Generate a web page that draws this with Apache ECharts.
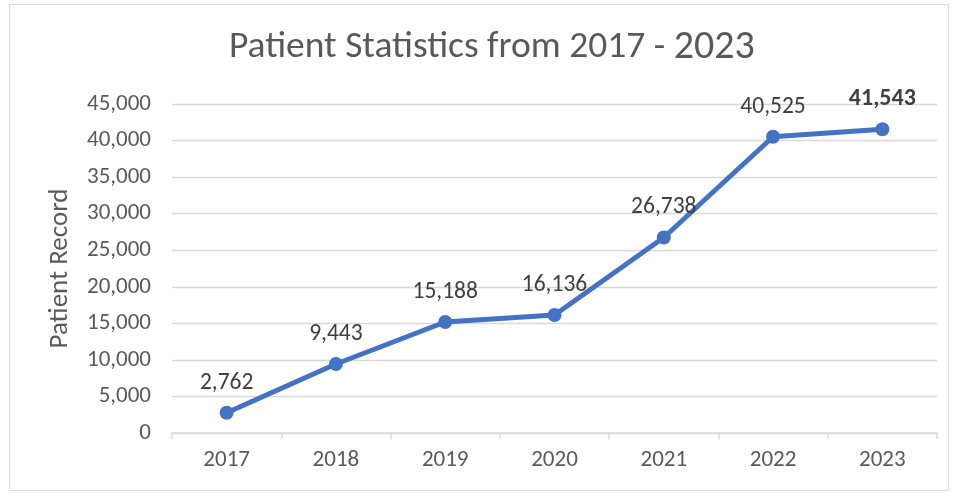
<!DOCTYPE html>
<html><head><meta charset="utf-8">
<script src="https://cdn.jsdelivr.net/npm/echarts@6/dist/echarts.min.js"></script>
<style>html,body{margin:0;padding:0;background:#fff;}#c{width:956px;height:493px;}
#frame{position:absolute;left:9px;top:4px;width:940px;height:487px;border:1px solid #d9d9d9;box-sizing:border-box;pointer-events:none;}</style>
</head><body><div id="c"></div><div id="frame"></div>
<script>
const categories = ['2017','2018','2019','2020','2021','2022','2023'];
const values = [2762, 9443, 15188, 16136, 26738, 40525, 41543];
const yTicks = [0,5000,10000,15000,20000,25000,30000,35000,40000,45000];
const titleMain = 'Patient Statistics from 2017 - ';
const titleYear = '2023';
const yName = 'Patient Record';

const fmt = v => v.toLocaleString('en-US');
const chart = echarts.init(document.getElementById('c'), null, {renderer:'canvas'});
const font = 'Carlito, Lato, sans-serif';
chart.setOption({
  animation:false,
  backgroundColor:'#fff',
  title:{
    text:'{a|'+titleMain+'}{b|'+titleYear+'}',
    left:224, top:23,
    textStyle:{fontWeight:'normal',rich:{
      a:{fontSize:37.5,color:'#595959',fontFamily:font,fontWeight:'normal'},
      b:{fontSize:40,color:'#595959',fontFamily:font,fontWeight:'normal'}
    }}
  },
  grid:{left:172,right:19,top:104,bottom:60,containLabel:false},
  xAxis:{
    type:'category', data:categories, boundaryGap:true,
    axisLine:{lineStyle:{color:'#d9d9d9',width:1.5}},
    axisTick:{show:true,length:6,lineStyle:{color:'#d9d9d9',width:1.5}},
    axisLabel:{color:'#595959',fontSize:23,fontFamily:font,margin:16}
  },
  yAxis:{
    type:'value', min:yTicks[0], max:yTicks[yTicks.length-1], interval:5000,
    name:yName, nameLocation:'middle', nameGap:98, nameRotate:90,
    nameTextStyle:{color:'#595959',fontSize:27,fontFamily:font},
    axisLine:{show:false}, axisTick:{show:false},
    splitLine:{lineStyle:{color:'#d9d9d9',width:1.3}},
    axisLabel:{color:'#595959',fontSize:23,fontFamily:font,margin:21,formatter:v=>fmt(v)}
  },
  series:[{
    type:'line', data:values.map((v,i)=>({value:v,label:i===values.length-1?{fontWeight:'bold',fontSize:24,color:'#404040'}:undefined})),
    lineStyle:{color:'#4472C4',width:5},
    itemStyle:{color:'#4472C4'},
    symbol:'circle', symbolSize:14,
    label:{show:true,position:'top',distance:11,color:'#404040',fontSize:23.5,fontFamily:font,formatter:p=>fmt(p.value)}
  }]
});
</script></body></html>
